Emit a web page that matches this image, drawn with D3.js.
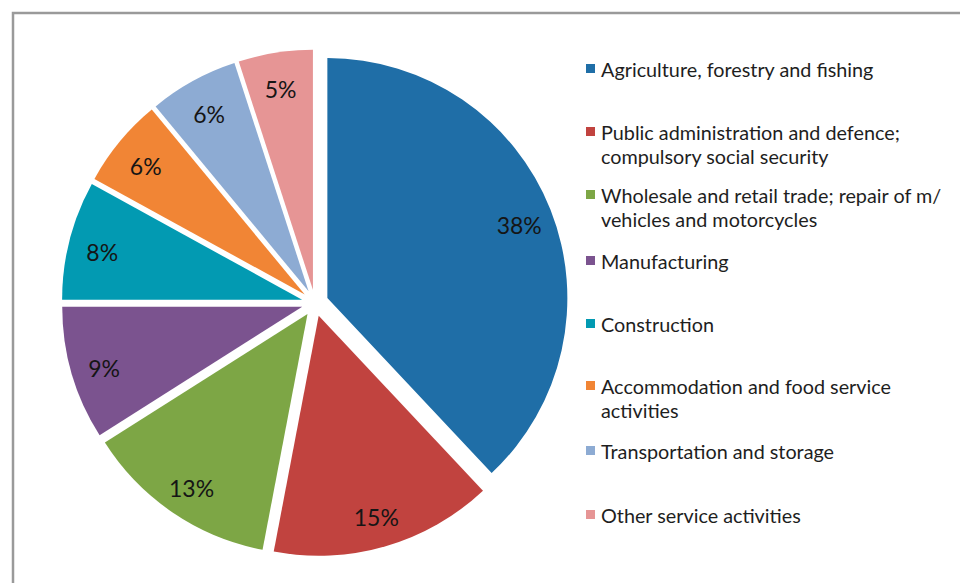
<!DOCTYPE html>
<html><head><meta charset="utf-8">
<script src="https://cdn.jsdelivr.net/npm/d3@7"></script>
<style>body{margin:0;background:#fff;}svg{display:block;}</style>
</head><body>
<svg id="c" width="960" height="583"></svg>
<script>
const categories = [
  "Agriculture, forestry and fishing",
  "Public administration and defence; compulsory social security",
  "Wholesale and retail trade; repair of m/ vehicles and motorcycles",
  "Manufacturing",
  "Construction",
  "Accommodation and food service activities",
  "Transportation and storage",
  "Other service activities"
];
const legendLines = [
  ["Agriculture, forestry and fishing"],
  ["Public administration and defence;", "compulsory social security"],
  ["Wholesale and retail trade; repair of m/", "vehicles and motorcycles"],
  ["Manufacturing"],
  ["Construction"],
  ["Accommodation and food service", "activities"],
  ["Transportation and storage"],
  ["Other service activities"]
];
const values = [38, 15, 13, 9, 8, 6, 6, 5];
const colors = ["#1f6ea7", "#c1433f", "#7da645", "#7b538f", "#029ab2", "#f18535", "#8dabd3", "#e69595"];

const svg = d3.select("#c");
// frame
svg.append("rect").attr("x", 13).attr("y", 13).attr("width", 1000).attr("height", 1000)
  .attr("fill", "none").attr("stroke", "#9a9a9a").attr("stroke-width", 2.5);

const cx = 315, cy = 303, r = 240, explode = 13.3;
const pie = d3.pie().sort(null).value(d => d)(values);
const arc = d3.arc().innerRadius(0).outerRadius(r);
const g = svg.append("g").attr("transform", `translate(${cx},${cy})`);
const slices = g.selectAll("g.s").data(pie).enter().append("g").attr("class", "s")
  .attr("transform", d => {
    const a = (d.startAngle + d.endAngle) / 2;
    return `translate(${Math.sin(a) * explode},${-Math.cos(a) * explode})`;
  });
slices.append("path").attr("d", arc).attr("fill", (d, i) => colors[i]);
const lr = 0.86 * r;
slices.append("text")
  .attr("x", d => Math.sin((d.startAngle + d.endAngle) / 2) * lr)
  .attr("y", d => -Math.cos((d.startAngle + d.endAngle) / 2) * lr + 4)
  .attr("text-anchor", "middle").attr("dy", "0.36em")
  .attr("font-family", "Lato, 'Open Sans', sans-serif").attr("font-size", 23)
  .attr("fill", "#151515")
  .text(d => d.data + "%");

// legend
const legendY = [70, 133, 196, 262, 325, 387, 452, 516];
const lg = svg.append("g").attr("font-family", "Lato, 'Open Sans', sans-serif").attr("font-size", 19.8).attr("fill", "#1e1e1e");
legendLines.forEach((lines, i) => {
  lg.append("rect").attr("x", 586).attr("y", legendY[i] - 6).attr("width", 9).attr("height", 9).attr("fill", colors[i]);
  const t = lg.append("text").attr("x", 601).attr("y", legendY[i]);
  lines.forEach((l, j) => t.append("tspan").attr("x", 601).attr("dy", j === 0 ? "0.35em" : 24).text(l));
});
</script>
</body></html>
